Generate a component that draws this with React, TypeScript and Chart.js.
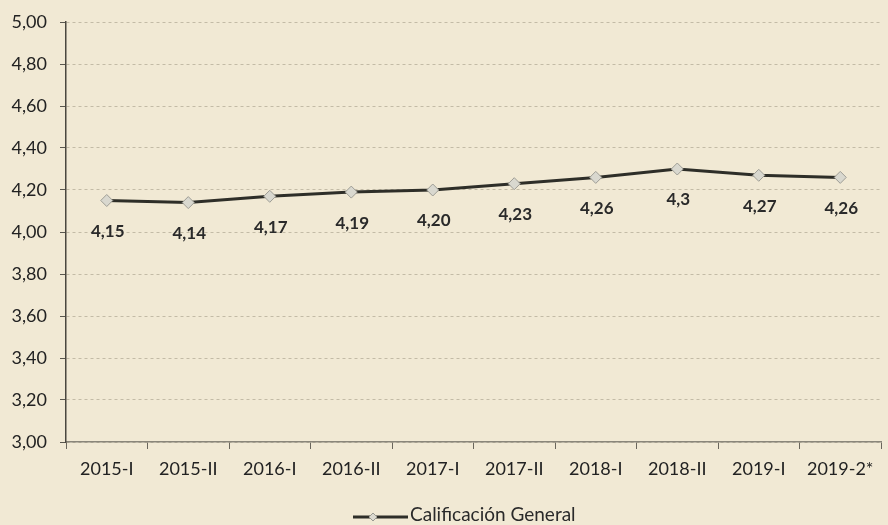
import React, { useEffect, useRef } from "react";
import { Chart, registerables } from "chart.js";

Chart.register(...registerables);

const categories = ["2015-I", "2015-II", "2016-I", "2016-II", "2017-I", "2017-II", "2018-I", "2018-II", "2019-I", "2019-2*"];
const values = [4.15, 4.14, 4.17, 4.19, 4.2, 4.23, 4.26, 4.3, 4.27, 4.26];
const pointLabels = ["4,15", "4,14", "4,17", "4,19", "4,20", "4,23", "4,26", "4,3", "4,27", "4,26"];
const seriesName = "Calificación General";

const FONT = "Lato, 'Noto Sans', sans-serif";
const BG = "#f1e9d4";
const LINE = "#2e2e28";

export default function App() {
  const ref = useRef<HTMLCanvasElement | null>(null);

  useEffect(() => {
    document.body.style.margin = "0";
    document.body.style.background = BG;
    const canvas = ref.current;
    if (!canvas) return;

    const bgPlugin = {
      id: "bg",
      beforeDraw(chart: any) {
        const { ctx, width, height } = chart;
        ctx.save();
        ctx.fillStyle = BG;
        ctx.fillRect(0, 0, width, height);
        ctx.restore();
      },
    };

    const labelPlugin = {
      id: "pointLabels",
      afterDatasetsDraw(chart: any) {
        const { ctx } = chart;
        const meta = chart.getDatasetMeta(0);
        ctx.save();
        ctx.font = `bold 17px ${FONT}`;
        ctx.fillStyle = "#2a2a2a";
        ctx.textAlign = "center";
        ctx.textBaseline = "middle";
        meta.data.forEach((pt: any, i: number) => {
          ctx.fillText(pointLabels[i], pt.x + 1, pt.y + 31);
        });
        ctx.restore();
      },
    };

    const legendPlugin = {
      id: "customLegend",
      afterDraw(chart: any) {
        const { ctx } = chart;
        const y = 517;
        const x0 = 353;
        ctx.save();
        ctx.strokeStyle = LINE;
        ctx.lineWidth = 3;
        ctx.beginPath();
        ctx.moveTo(x0, y);
        ctx.lineTo(x0 + 55, y);
        ctx.stroke();
        const cx = x0 + 20;
        ctx.beginPath();
        ctx.moveTo(cx, y - 4);
        ctx.lineTo(cx + 4, y);
        ctx.lineTo(cx, y + 4);
        ctx.lineTo(cx - 4, y);
        ctx.closePath();
        ctx.fillStyle = "#dcdad0";
        ctx.fill();
        ctx.strokeStyle = "#9a9a92";
        ctx.lineWidth = 1;
        ctx.stroke();
        ctx.font = `19px ${FONT}`;
        ctx.fillStyle = "#2a2a2a";
        ctx.textAlign = "left";
        ctx.textBaseline = "middle";
        ctx.fillText(seriesName, x0 + 57, y - 2);
        ctx.restore();
      },
    };

    const chart = new Chart(canvas, {
      type: "line",
      data: {
        labels: categories,
        datasets: [
          {
            label: seriesName,
            data: values,
            borderColor: LINE,
            borderWidth: 3,
            pointStyle: "rectRot",
            pointRadius: 6,
            pointBackgroundColor: "#d9d8cf",
            pointBorderColor: "#9e9d95",
            pointBorderWidth: 1,
            tension: 0,
          },
        ],
      },
      options: {
        animation: false,
        responsive: false,
        maintainAspectRatio: false,
        layout: { padding: { top: 22, right: 0, bottom: 0, left: 0 } },
        plugins: {
          legend: { display: false },
          tooltip: { enabled: false },
        },
        scales: {
          x: {
            type: "category",
            offset: true,
            grid: {
              offset: true,
              drawOnChartArea: false,
              drawTicks: true,
              tickLength: 7,
              color: "#6a665c",
              tickColor: "#6a665c",
            },
            border: { display: true, color: "#8a867a", width: 1.5 },
            ticks: {
              color: "#222",
              font: { family: FONT, size: 18 },
              padding: 9,
              maxRotation: 0,
              autoSkip: false,
            },
            afterFit(scale: any) {
              scale.height = 83;
              scale.paddingLeft = 0;
              scale.paddingRight = 0;
            },
          },
          y: {
            min: 3,
            max: 5,
            ticks: {
              stepSize: 0.2,
              color: "#222",
              font: { family: FONT, size: 18 },
              padding: 13,
              callback: (v: any) => Number(v).toFixed(2).replace(".", ","),
            },
            grid: {
              color: "rgba(140,130,110,0.45)",
              tickColor: "#5a574e",
              tickLength: 6,
              lineWidth: 1,
            },
            border: { display: true, color: "#4a473f", width: 1.5, dash: [3, 3] },
            afterFit(scale: any) {
              scale.width = 66;
              scale.paddingTop = 0;
              scale.paddingBottom = 0;
            },
          },
        },
      },
      plugins: [bgPlugin, labelPlugin, legendPlugin],
    });

    return () => chart.destroy();
  }, []);

  return (
    <div style={{ position: "absolute", left: 0, top: 0, width: 888, height: 525, background: BG }}>
      <canvas ref={ref} width={888} height={525} style={{ width: 888, height: 525, display: "block" }} />
    </div>
  );
}
